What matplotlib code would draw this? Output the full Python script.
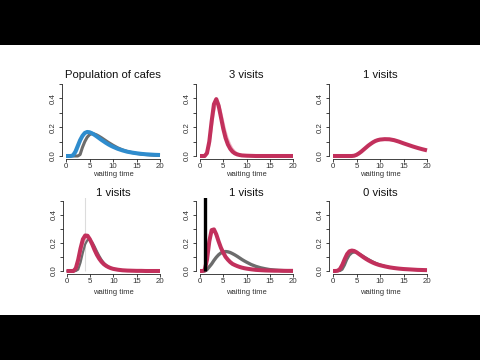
import matplotlib
matplotlib.use("Agg")
import matplotlib.pyplot as plt

plt.rcParams['font.family'] = ['Liberation Sans', 'DejaVu Sans']

# common waiting-time grid
X = [0, 0.5, 1, 1.5, 2, 2.5, 3, 3.5, 4, 4.5, 5, 5.5, 6, 6.5, 7, 7.5, 8, 8.5, 9, 9.5, 10,
     11, 12, 13, 14, 15, 16, 17, 18, 19, 20]

titles = ["Population of cafes", "3 visits", "1 visits", "1 visits", "1 visits", "0 visits"]
x_ticks = [0, 5, 10, 15, 20]
y_ticks = [0.0, 0.1, 0.2, 0.3, 0.4, 0.5]
y_labels = ["0.0", "", "0.2", "", "0.4", ""]

# panel 1
blue1 = [0, 0, 0, 0.005, 0.03, 0.07, 0.11, 0.14, 0.16, 0.167, 0.165, 0.158, 0.148, 0.137, 0.125,
         0.113, 0.102, 0.091, 0.081, 0.072, 0.064,
         0.05, 0.039, 0.030, 0.024, 0.019, 0.015, 0.012, 0.010, 0.008, 0.007]
grey1 = [0, 0, 0, 0, 0, 0, 0.01, 0.06, 0.10, 0.13, 0.148, 0.155, 0.153, 0.147, 0.138,
         0.128, 0.117, 0.106, 0.095, 0.085, 0.075,
         0.057, 0.043, 0.032, 0.024, 0.018, 0.013, 0.010, 0.007, 0.005, 0.004]
lightblue1 = [0, 0, 0, 0, 0.01, 0.04, 0.085, 0.125, 0.152, 0.166, 0.17, 0.166, 0.158, 0.147, 0.135,
              0.123, 0.111, 0.1, 0.09, 0.08, 0.071,
              0.056, 0.044, 0.034, 0.027, 0.021, 0.016, 0.013, 0.01, 0.008, 0.006]
# panel 2
crimson2 = [0, 0, 0, 0.02, 0.10, 0.24, 0.36, 0.395, 0.35, 0.27, 0.19, 0.125, 0.08, 0.05, 0.03,
            0.018, 0.011, 0.007, 0.004, 0.003, 0.002,
            0.001, 0, 0, 0, 0, 0, 0, 0, 0, 0]
pink2 = [0, 0, 0, 0.01, 0.06, 0.17, 0.29, 0.36, 0.37, 0.32, 0.25, 0.18, 0.125, 0.085, 0.055,
         0.035, 0.022, 0.014, 0.009, 0.006, 0.004,
         0.002, 0.001, 0, 0, 0, 0, 0, 0, 0, 0]
# panel 3
crimson3 = [0, 0, 0, 0, 0, 0, 0, 0, 0, 0.002, 0.008, 0.018, 0.03, 0.044, 0.058,
            0.072, 0.084, 0.095, 0.104, 0.11, 0.114,
            0.117, 0.116, 0.11, 0.10, 0.088, 0.077, 0.066, 0.056, 0.047, 0.039]
# panel 4
crimson4 = [0, 0, 0, 0, 0.02, 0.08, 0.16, 0.225, 0.252, 0.25, 0.225, 0.19, 0.15, 0.115, 0.087,
            0.065, 0.048, 0.036, 0.027, 0.02, 0.015,
            0.009, 0.005, 0.003, 0.002, 0.001, 0.001, 0, 0, 0, 0]
grey4 = [0, 0, 0, 0, 0, 0.01, 0.06, 0.13, 0.19, 0.22, 0.222, 0.205, 0.175, 0.14, 0.108,
         0.08, 0.058, 0.042, 0.03, 0.022, 0.016,
         0.008, 0.004, 0.002, 0.001, 0, 0, 0, 0, 0, 0]
pink4 = [0, 0, 0, 0, 0, 0.04, 0.11, 0.18, 0.225, 0.237, 0.225, 0.197, 0.162, 0.127, 0.097,
         0.073, 0.054, 0.04, 0.03, 0.022, 0.016,
         0.009, 0.005, 0.003, 0.002, 0.001, 0, 0, 0, 0, 0]
obs4 = [4.0]
# panel 5
crimson5 = [0, 0, 0.005, 0.08, 0.21, 0.29, 0.295, 0.26, 0.21, 0.165, 0.13, 0.1, 0.08, 0.063, 0.05,
            0.042, 0.035, 0.029, 0.024, 0.02, 0.017,
            0.012, 0.008, 0.006, 0.004, 0.003, 0.002, 0.002, 0.001, 0.001, 0.001]
grey5 = [0, 0, 0, 0.01, 0.03, 0.05, 0.075, 0.097, 0.115, 0.128, 0.135, 0.138, 0.136, 0.131, 0.123,
         0.114, 0.104, 0.093, 0.082, 0.072, 0.063,
         0.046, 0.033, 0.023, 0.016, 0.01, 0.007, 0.004, 0.003, 0.002, 0.001]
obs5 = [1.0]
# panel 6
crimson6 = [0, 0, 0.002, 0.015, 0.045, 0.085, 0.12, 0.14, 0.145, 0.142, 0.133, 0.121, 0.109, 0.097, 0.086,
            0.076, 0.067, 0.059, 0.052, 0.046, 0.041,
            0.033, 0.026, 0.021, 0.017, 0.014, 0.012, 0.010, 0.008, 0.007, 0.006]
grey6 = [0, 0, 0, 0, 0.01, 0.04, 0.08, 0.11, 0.126, 0.132, 0.13, 0.124, 0.115, 0.105, 0.095,
         0.085, 0.076, 0.067, 0.059, 0.052, 0.046,
         0.036, 0.028, 0.022, 0.017, 0.013, 0.010, 0.008, 0.006, 0.005, 0.004]
pink6 = [0, 0, 0, 0, 0.02, 0.06, 0.10, 0.127, 0.14, 0.142, 0.138, 0.13, 0.12, 0.109, 0.098,
         0.088, 0.078, 0.069, 0.061, 0.054, 0.048,
         0.038, 0.03, 0.024, 0.019, 0.015, 0.012, 0.01, 0.008, 0.007, 0.006]

BLUE = '#2f8ccd'
CRIMSON = '#c2305c'
GREY = '#6c6c6c'
LPINK = '#f0b6c6'
LBLUE = '#a6d2f0'

W, H = 480, 360
fig = plt.figure(figsize=(4.8, 3.6), dpi=100, facecolor='black')
bg = fig.add_axes([0, 1 - 315 / H, 1, (315 - 45) / H], zorder=-5)
bg.set_facecolor('white')
bg.set_xticks([])
bg.set_yticks([])
for s in bg.spines.values():
    s.set_visible(False)

# pixel geometry: (x at 0, x at 20, y at 0, y at 0.5, title y, xlabel y)
geo = [
    (66, 160, 156, 84, 75, 174),
    (200, 293, 156, 84, 75, 174),
    (333, 427, 156, 84, 75, 174),
    (66.5, 160, 271, 200.5, 193, 292),
    (200, 293, 271, 200.5, 193, 292),
    (333, 427, 271, 200.5, 193, 292),
]

panels = [
    [(lightblue1, LBLUE, 1.0), (grey1, GREY, 2.2), (blue1, BLUE, 2.9)],
    [(pink2, LPINK, 1.0), (crimson2, CRIMSON, 2.9)],
    [(crimson3, CRIMSON, 2.9)],
    [(pink4, LPINK, 1.0), (grey4, GREY, 1.6), (crimson4, CRIMSON, 2.9)],
    [(grey5, GREY, 2.4), (crimson5, CRIMSON, 2.9)],
    [(pink6, LPINK, 1.0), (grey6, GREY, 1.6), (crimson6, CRIMSON, 2.9)],
]

for i, (x0, x20, y0, y5, ty, xly) in enumerate(geo):
    sx = (x20 - x0) / 20.0
    sy = (y0 - y5) / 0.5
    left = x0 - 0.8 * sx
    right = x20 + 0.8 * sx
    bottom = y0 + 0.02 * sy
    top = y5 - 0.02 * sy
    ax = fig.add_axes([left / W, 1 - bottom / H, (right - left) / W, (bottom - top) / H], zorder=2)
    ax.set_facecolor('none')
    ax.set_xlim(-0.8, 20.8)
    ax.set_ylim(-0.02, 0.52)

    if i == 3:
        ax.vlines(obs4, 0, 1, color='#dcdcdc', lw=0.8, zorder=1)
    for ys, col, lw in panels[i]:
        ax.plot(X, ys, color=col, lw=lw, solid_capstyle='butt', zorder=2)
    if i == 4:
        ax.vlines(obs5, 0, 1, color='black', lw=2.4, zorder=3)

    for s in ['top', 'right']:
        ax.spines[s].set_visible(False)
    for s in ['left', 'bottom']:
        ax.spines[s].set_linewidth(0.6)
        ax.spines[s].set_color('#222222')
    ax.spines['left'].set_bounds(0, 0.5)
    ax.spines['bottom'].set_bounds(0, 20)
    ax.set_xticks(x_ticks)
    ax.set_xticklabels([str(t) for t in x_ticks])
    ax.set_yticks(y_ticks)
    ax.set_yticklabels(y_labels, rotation=90, va='center')
    ax.tick_params(axis='both', length=2.2, width=0.6, color='#222222',
                   labelsize=5.7, labelcolor='#333333', pad=1.5)
    ax.tick_params(axis='x', pad=1.0)

    fig.text((x0 + x20) / 2 / W, 1 - ty / H, titles[i], ha='center', va='center',
             fontsize=8.1, color='#111111')
    fig.text((x0 + x20) / 2 / W, 1 - xly / H, "waiting time", ha='center', va='center',
             fontsize=5.5, color='#333333')

fig.savefig('out.png', dpi=100, facecolor=fig.get_facecolor())
